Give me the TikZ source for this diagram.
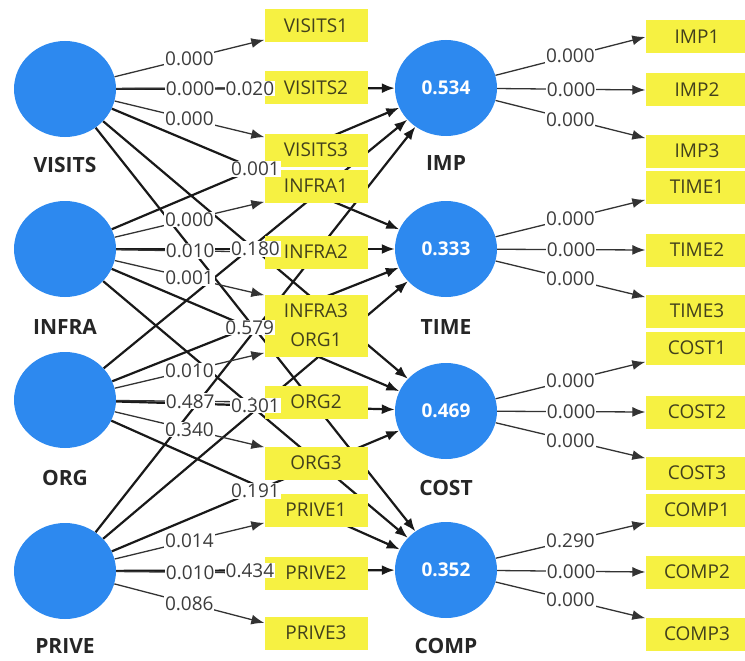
\documentclass[tikz,border=0pt]{standalone}
\usepackage{fontspec}
\setmainfont{Open Sans}
\usetikzlibrary{arrows.meta,shapes.geometric}
\definecolor{cblue}{RGB}{45,137,239}
\definecolor{iyel}{RGB}{246,241,66}
\definecolor{itxt}{RGB}{66,64,28}
\definecolor{ntxt}{RGB}{60,60,60}
\pgfdeclarelayer{edgelayer}
\pgfdeclarelayer{toplayer}
\pgfsetlayers{edgelayer,main,toplayer}
\begin{document}
\begin{tikzpicture}[x=1pt,y=-1pt,
  lv/.style={ellipse, fill=cblue, draw=none, minimum width=102pt, minimum height=96pt, inner sep=0pt, text=white, font=\fontsize{19}{19}\selectfont\bfseries},
  lvname/.style={font=\fontsize{21}{21}\selectfont\bfseries, text=black!85, inner sep=1pt},
  ind/.style={rectangle, fill=iyel, minimum width=103pt, minimum height=33pt, inner sep=0pt, text=itxt, font=\fontsize{19}{19}\selectfont},
  num/.style={fill=white, inner sep=0.8pt, text=ntxt, font=\fontsize{19}{19}\selectfont},
  spath/.style={line width=2.2pt, draw=black!90, -{Latex[length=13pt,width=10pt]}},
  mpath/.style={line width=1.3pt, draw=black!80, -{Latex[length=13pt,width=10pt]}},
]
\useasboundingbox (0,0) rectangle (745,661);
% latent variables
\node[lv] (VISITS) at (65,89) {};
\node[lv] (INFRA) at (65,249) {};
\node[lv] (ORG) at (65,400) {};
\node[lv] (PRIVE) at (65,571) {};
\node[lv] (IMP) at (446,88) {0.534};
\node[lv] (TIME) at (446,249) {0.333};
\node[lv] (COST) at (446,411) {0.469};
\node[lv] (COMP) at (446,570) {0.352};
% names
\node[lvname] (nVISITS) at (65,165) {VISITS};
\node[lvname] (nINFRA) at (65,327) {INFRA};
\node[lvname] (nORG) at (65,478) {ORG};
\node[lvname] (nPRIVE) at (65,646) {PRIVE};
\node[lvname] (nIMP) at (446,163) {IMP};
\node[lvname] (nTIME) at (446,327) {TIME};
\node[lvname] (nCOST) at (446,488) {COST};
\node[lvname] (nCOMP) at (446,646) {COMP};
% left indicators
\node[ind] (V1) at (316,26) {VISITS1};
\node[ind] (V2) at (316,88) {VISITS2};
\node[ind] (V3) at (316,150) {VISITS3};
\node[ind] (I1) at (316,186) {INFRA1};
\node[ind] (I2) at (316,252) {INFRA2};
\node[ind] (I3) at (316,311) {INFRA3};
\node[ind] (O1) at (316,340) {ORG1};
\node[ind] (O2) at (316,402) {ORG2};
\node[ind] (O3) at (316,463) {ORG3};
\node[ind] (P1) at (316,510) {PRIVE1};
\node[ind] (P2) at (316,573) {PRIVE2};
\node[ind] (P3) at (316,633) {PRIVE3};
% right indicators
\node[ind] (M1) at (697,37) {IMP1};
\node[ind] (M2) at (697,90) {IMP2};
\node[ind] (M3) at (697,151) {IMP3};
\node[ind] (T1) at (697,187) {TIME1};
\node[ind] (T2) at (697,250) {TIME2};
\node[ind] (T3) at (697,311) {TIME3};
\node[ind] (C1) at (697,348) {COST1};
\node[ind] (C2) at (697,412) {COST2};
\node[ind] (C3) at (697,473) {COST3};
\node[ind] (K1) at (697,510) {COMP1};
\node[ind] (K2) at (697,572) {COMP2};
\node[ind] (K3) at (697,634) {COMP3};
\begin{pgfonlayer}{edgelayer}
\foreach \l in {VISITS,INFRA,ORG,PRIVE}
  \foreach \r in {IMP,TIME,COST,COMP}
    \draw[spath] (\l) -- (\r);
\draw[mpath] (VISITS) -- (V1.195);
\draw[mpath] (VISITS) -- (V2.west);
\draw[mpath] (VISITS) -- (V3.166);
\draw[mpath] (INFRA) -- (I1.197);
\draw[mpath] (INFRA) -- (I2.west);
\draw[mpath] (INFRA) -- (I3.163);
\draw[mpath] (ORG) -- (O1.194);
\draw[mpath] (ORG) -- (O2.west);
\draw[mpath] (ORG) -- (O3.163);
\draw[mpath] (PRIVE) -- (P1.194);
\draw[mpath] (PRIVE) -- (P2.west);
\draw[mpath] (PRIVE) -- (P3.169);
\draw[mpath] (IMP) -- (M1.west);
\draw[mpath] (IMP) -- (M2.west);
\draw[mpath] (IMP) -- (M3.166);
\draw[mpath] (TIME) -- (T1.194);
\draw[mpath] (TIME) -- (T2.west);
\draw[mpath] (TIME) -- (T3.165);
\draw[mpath] (COST) -- (C1.195);
\draw[mpath] (COST) -- (C2.west);
\draw[mpath] (COST) -- (C3.164);
\draw[mpath] (COMP) -- (K1.194);
\draw[mpath] (COMP) -- (K2.west);
\draw[mpath] (COMP) -- (K3.163);
\end{pgfonlayer}
\begin{pgfonlayer}{toplayer}
% structural coefficients
\path (VISITS) -- (IMP) node[num,pos=.48] {0.020};
\path (VISITS) -- (TIME) node[num,pos=.5] {0.001};
\path (INFRA) -- (TIME) node[num,pos=.5] {0.180};
\path (INFRA) -- (COST) node[num,pos=.48] {0.579};
\path (ORG) -- (COST) node[num,pos=.5] {0.301};
\path (PRIVE) -- (COST) node[num,pos=.5] {0.191};
\path (PRIVE) -- (COMP) node[num,pos=.48] {0.434};
% loadings
\path (VISITS) -- (V1.195) node[num,pos=.5] {0.000};
\path (VISITS) -- (V2.west) node[num,pos=.5] {0.000};
\path (VISITS) -- (V3.166) node[num,pos=.5] {0.000};
\path (INFRA) -- (I1.197) node[num,pos=.5] {0.000};
\path (INFRA) -- (I2.west) node[num,pos=.5] {0.010};
\path (INFRA) -- (I3.163) node[num,pos=.5] {0.001};
\path (ORG) -- (O1.194) node[num,pos=.5] {0.010};
\path (ORG) -- (O2.west) node[num,pos=.5] {0.487};
\path (ORG) -- (O3.163) node[num,pos=.5] {0.340};
\path (PRIVE) -- (P1.194) node[num,pos=.5] {0.014};
\path (PRIVE) -- (P2.west) node[num,pos=.5] {0.010};
\path (PRIVE) -- (P3.169) node[num,pos=.5] {0.086};
\path (IMP) -- (M1.west) node[num,pos=.5] {0.000};
\path (IMP) -- (M2.west) node[num,pos=.5] {0.000};
\path (IMP) -- (M3.166) node[num,pos=.5] {0.000};
\path (TIME) -- (T1.194) node[num,pos=.5] {0.000};
\path (TIME) -- (T2.west) node[num,pos=.5] {0.000};
\path (TIME) -- (T3.165) node[num,pos=.5] {0.000};
\path (COST) -- (C1.195) node[num,pos=.5] {0.000};
\path (COST) -- (C2.west) node[num,pos=.5] {0.000};
\path (COST) -- (C3.164) node[num,pos=.5] {0.000};
\path (COMP) -- (K1.194) node[num,pos=.5] {0.290};
\path (COMP) -- (K2.west) node[num,pos=.5] {0.000};
\path (COMP) -- (K3.163) node[num,pos=.5] {0.000};
\end{pgfonlayer}
\end{tikzpicture}
\end{document}
